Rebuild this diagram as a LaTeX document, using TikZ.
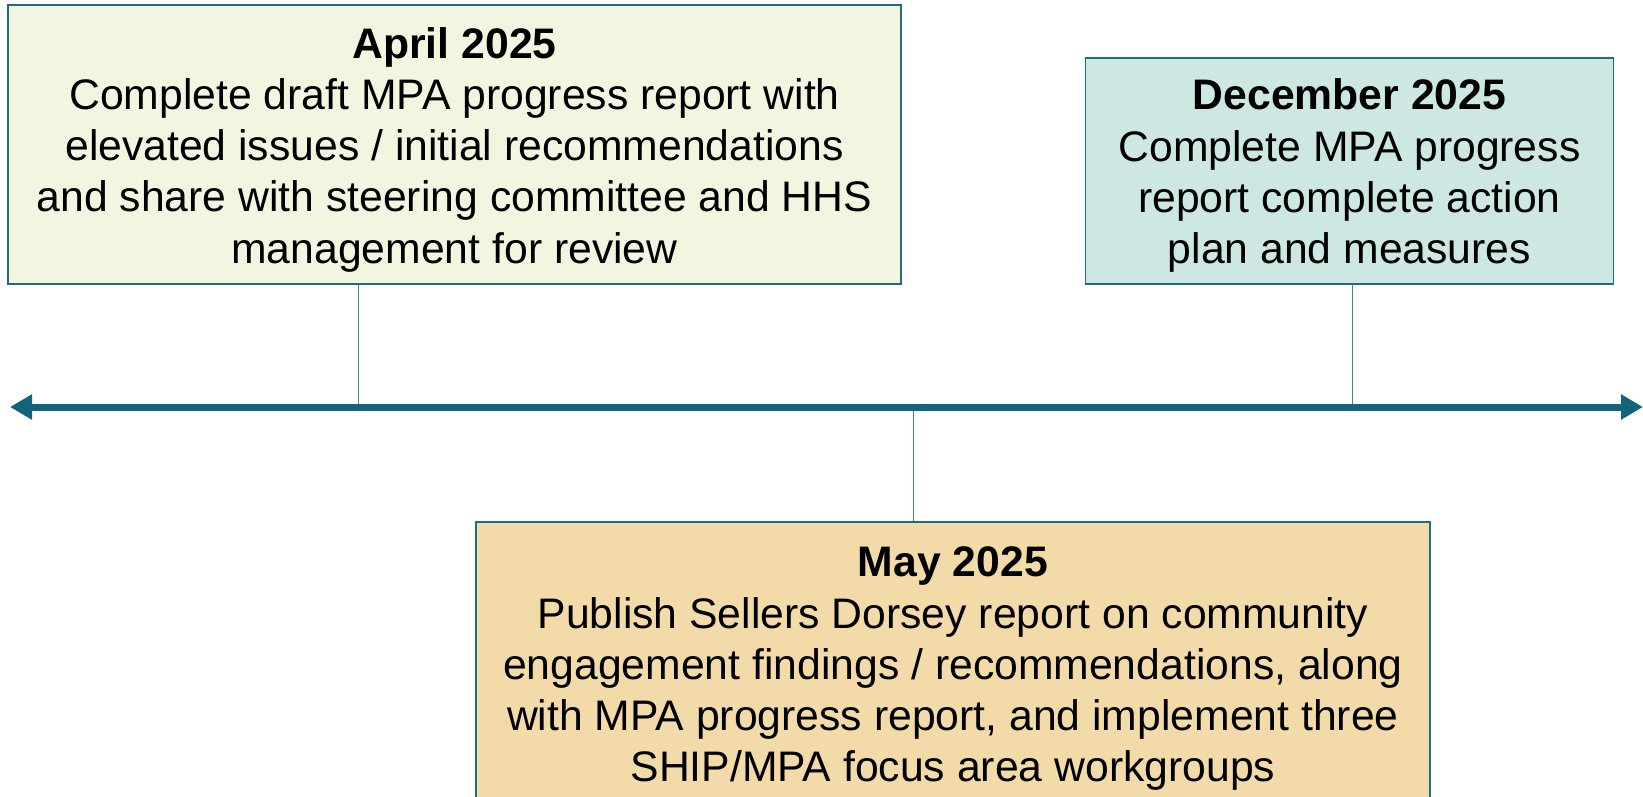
\documentclass[tikz,border=0pt]{standalone}
\usepackage{fontspec}
\setmainfont{Liberation Sans}
\usetikzlibrary{arrows.meta}
\definecolor{teal1}{HTML}{11647A}
\definecolor{edge1}{HTML}{1F6E80}
\definecolor{fillA}{HTML}{F2F6E0}
\definecolor{fillB}{HTML}{CDE7E3}
\definecolor{fillC}{HTML}{F2DBA8}
\newcommand{\topstrut}{\rule{0pt}{41pt}}
\begin{document}
\begin{tikzpicture}[x=1pt,y=-1pt,
  box/.style={draw=edge1,line width=1.8pt,inner sep=0pt,align=center,
    font=\fontsize{42.7}{51.3}\selectfont},
  conn/.style={draw=edge1!85,line width=1pt},
  timeline/.style={draw=teal1,line width=7pt,
    {Triangle[length=22pt,width=24pt]}-{Triangle[length=22pt,width=24pt]}}]
\useasboundingbox (0,0) rectangle (1643,796);
\node[box,fill=fillA,minimum width=892.6pt,minimum height=278.8pt] (apr) at (454.5,144.6)
  {\topstrut\textbf{April 2025}\\Complete draft MPA progress report with\\elevated issues / initial recommendations\\and share with steering committee and HHS\\management for review};
\node[box,fill=fillB,minimum width=528.1pt,minimum height=226.4pt] (dec) at (1349.5,170.8)
  {\topstrut\textbf{December 2025}\\Complete MPA progress\\report complete action\\plan and measures};
\node[box,fill=fillC,minimum width=954.3pt,minimum height=283pt] (may) at (952.9,663.3)
  {\topstrut\textbf{May 2025}\\Publish Sellers Dorsey report on community\\engagement findings / recommendations, along\\with MPA progress report, and implement three\\SHIP/MPA focus area workgroups};
\coordinate (L) at (10,407);
\coordinate (R) at (1643,407);
\coordinate (a1) at (358,407);
\coordinate (a2) at (1352.7,407);
\coordinate (a3) at (913.7,407);
\draw[conn] (a1 |- apr.south) -- (a1);
\draw[conn] (a2 |- dec.south) -- (a2);
\draw[conn] (a3) -- (a3 |- may.north);
\draw[timeline] (L) -- (R);
\end{tikzpicture}
\end{document}
